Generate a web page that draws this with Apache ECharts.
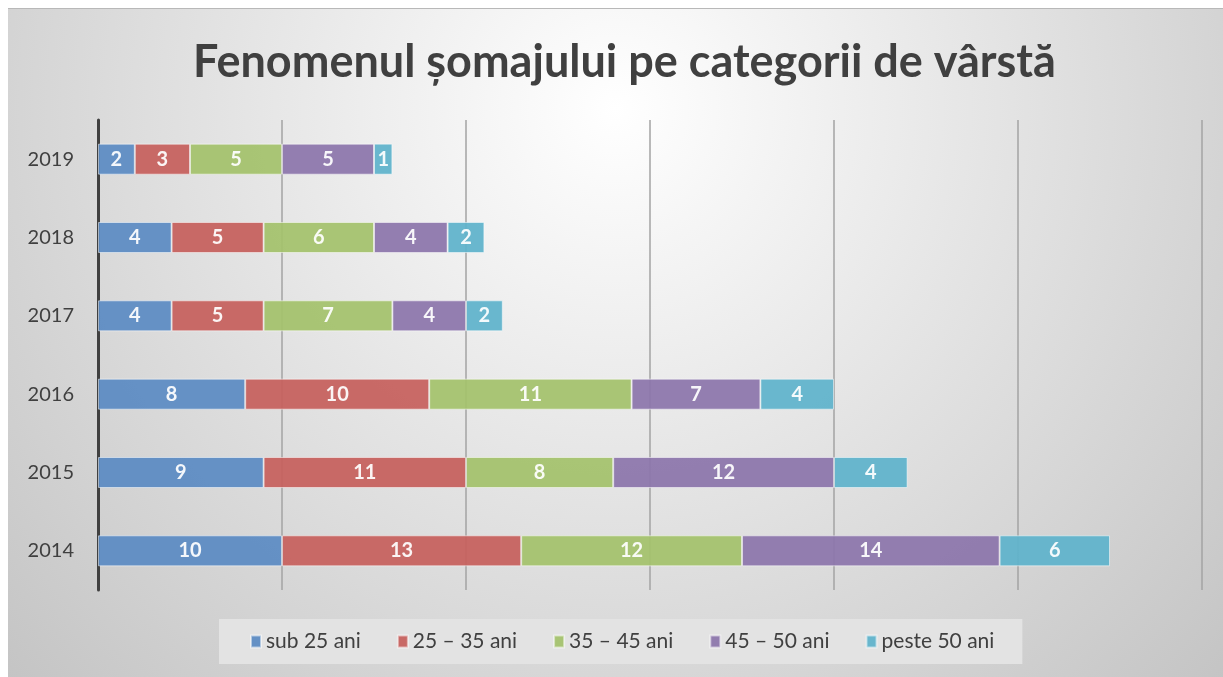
<!DOCTYPE html>
<html>
<head>
<meta charset="utf-8">
<script src="https://cdn.jsdelivr.net/npm/echarts@6/dist/echarts.min.js"></script>
<style>
  html, body { margin: 0; padding: 0; background: #fff; }
  #chart { width: 1223px; height: 677px; }
</style>
</head>
<body>
<div id="chart"></div>
<script>
const years = ['2014', '2015', '2016', '2017', '2018', '2019'];
const seriesNames = ['sub 25 ani', '25 – 35 ani', '35 – 45 ani', '45 – 50 ani', 'peste 50 ani'];
const sub25 = [10, 9, 8, 4, 4, 2];
const age25to35 = [13, 11, 10, 5, 5, 3];
const age35to45 = [12, 8, 11, 7, 6, 5];
const age45to50 = [14, 12, 7, 4, 4, 5];
const over50 = [6, 4, 4, 2, 2, 1];

const colors = ['#5b8bc3', '#c6605d', '#a4c26c', '#8c75ab', '#5fb3cb'];
const seriesData = [sub25, age25to35, age35to45, age45to50, over50];
const fontFamily = 'Lato, "Open Sans", sans-serif';

const chart = echarts.init(document.getElementById('chart'));

const option = {
  backgroundColor: '#fff',
  graphic: [
    {
      type: 'rect',
      left: 8,
      top: 8,
      z: -10,
      shape: { width: 1215, height: 669 },
      style: {
        fill: new echarts.graphic.RadialGradient(0.5, 0.15, 1.25, [
          { offset: 0, color: '#ffffff' },
          { offset: 1, color: '#c4c4c4' }
        ])
      }
    },
    {
      type: 'rect',
      left: 8,
      top: 8,
      z: -9,
      shape: { width: 1215, height: 1 },
      style: { fill: '#b8b8b8' }
    }
  ],
  title: {
    text: 'Fenomenul șomajului pe categorii de vârstă',
    left: 188,
    top: 35,
    textStyle: {
      fontFamily,
      fontSize: 45,
      fontWeight: 'bold',
      color: '#404040'
    }
  },
  legend: {
    left: 219,
    top: 619,
    padding: [12, 28, 12, 31],
    backgroundColor: '#e3e3e3',
    icon: 'rect',
    itemWidth: 10,
    itemHeight: 12,
    itemGap: 36,
    textStyle: { fontFamily, fontSize: 21, color: '#404040' },
    data: seriesNames
  },
  grid: {
    left: 98,
    right: 21,
    top: 120,
    bottom: 87,
    containLabel: false
  },
  xAxis: {
    type: 'value',
    min: 0,
    max: 60,
    interval: 10,
    axisLabel: { show: false },
    axisTick: { show: false },
    axisLine: { show: false },
    splitLine: { show: true, lineStyle: { color: '#a3a3a3', width: 1.5 } }
  },
  yAxis: {
    type: 'category',
    data: years,
    axisTick: { show: false },
    axisLine: { show: true, lineStyle: { color: '#404040', width: 3 } },
    axisLabel: { fontFamily, fontSize: 20, color: '#404040', margin: 24 }
  },
  series: seriesNames.map((name, i) => ({
    name,
    type: 'bar',
    stack: 'total',
    barWidth: 31,
    data: seriesData[i],
    itemStyle: {
      color: colors[i],
      opacity: 0.93,
      borderColor: 'rgba(255,255,255,0.55)',
      borderWidth: 1
    },
    label: {
      show: true,
      position: 'inside',
      color: '#fff',
      fontFamily,
      fontWeight: 'bold',
      fontSize: 20
    }
  }))
};

chart.setOption(option);
</script>
</body>
</html>
